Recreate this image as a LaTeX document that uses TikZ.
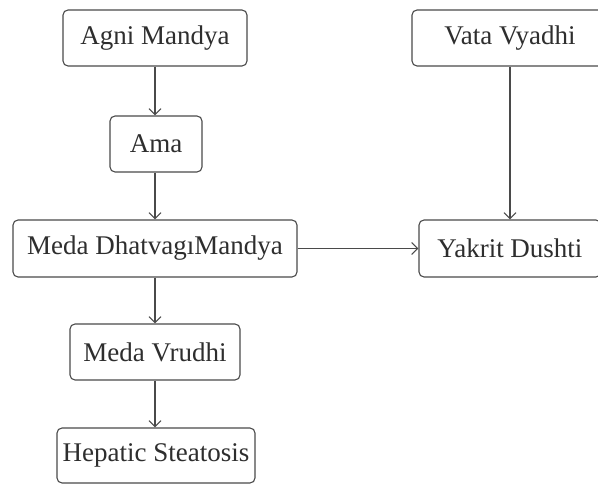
\documentclass[tikz,border=0pt]{standalone}
\usepackage{fontspec}
\setmainfont{Liberation Serif}
\usetikzlibrary{arrows.meta}
\definecolor{linec}{HTML}{4A4A4A}
\definecolor{textc}{HTML}{2E2E2E}
\begin{document}
\begin{tikzpicture}[x=1pt,y=-1pt,
  box/.style={draw=linec, line width=1.1pt, rounded corners=5pt, fill=white,
    text=textc, font=\fontsize{27}{30}\selectfont, inner sep=0pt,
    minimum height=56pt, anchor=center},
  conn/.style={draw=linec, line width=1.1pt, -{Straight Barb[length=6pt,width=12pt,line width=1.1pt]}}]
\useasboundingbox (0,0) rectangle (598,484);
\clip (0,0) rectangle (598,484);
\node[box, minimum width=184pt] (agni) at (155,38) {Agni Mandya};
\node[box, minimum width=92pt] (ama) at (156,144) {Ama};
\node[box, minimum width=284pt, minimum height=57pt] (meda) at (155,248.5) {Meda DhatvagıMandya};
\node[box, minimum width=170pt] (vrudhi) at (155,352) {Meda Vrudhi};
\node[box, minimum width=198pt, minimum height=55pt] (hep) at (156,455.5) {Hepatic Steatosis};
\node[box, minimum width=196pt] (vata) at (510,38) {Vata Vyadhi};
\node[box, minimum width=182pt, minimum height=57pt] (yakrit) at (510,248.5) {Yakrit Dushti};
\draw[conn] (agni.south -| 155,0) -- (ama.north -| 155,0);
\draw[conn] (ama.south -| 155,0) -- (meda.north -| 155,0);
\draw[conn] (meda.south -| 155,0) -- (vrudhi.north -| 155,0);
\draw[conn] (vrudhi.south -| 155,0) -- (hep.north -| 155,0);
\draw[conn] (vata.south) -- (yakrit.north);
\draw[conn] (meda.east) -- (yakrit.west);
\end{tikzpicture}
\end{document}
